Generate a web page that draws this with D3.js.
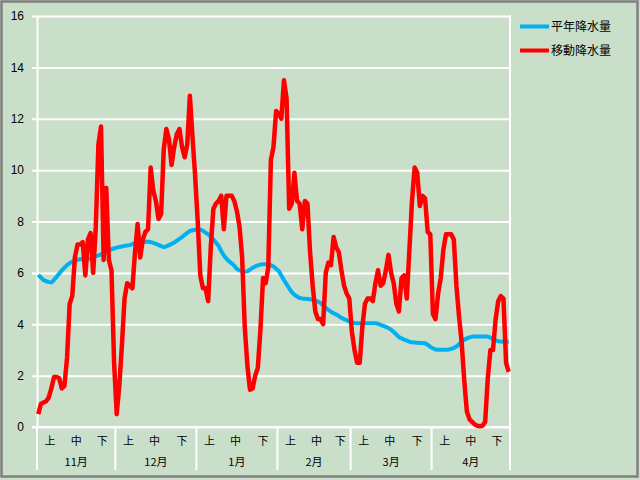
<!DOCTYPE html>
<html><head><meta charset="utf-8">
<script src="https://cdn.jsdelivr.net/npm/d3@7"></script>
<style>body{margin:0;background:#fff}svg{display:block}</style>
</head><body>
<svg id="chart" width="640" height="480"></svg>
<script>
// ---- data ----
const months = ["11月","12月","1月","2月","3月","4月"];
const monthDays = [30,31,31,28,31,30];
const periods = ["上","中","下"];
const yTicks = [0,2,4,6,8,10,12,14,16];
const seriesNames = ["平年降水量","移動降水量"];
const normal = [5.92,5.82,5.72,5.68,5.64,5.63,5.72,5.85,5.97,6.1,6.2,6.3,6.38,6.44,6.48,6.51,6.53,6.53,6.54,6.54,
6.55,6.6,6.65,6.68,6.72,6.77,6.83,6.88,6.92,6.95,6.98,7.01,7.03,7.05,7.07,7.08,7.12,7.16,7.18,7.19,
7.2,7.21,7.21,7.2,7.17,7.13,7.09,7.04,7.0,7.03,7.08,7.13,7.18,7.25,7.32,7.39,7.48,7.56,7.63,7.66,
7.68,7.69,7.69,7.64,7.57,7.5,7.4,7.3,7.17,7.05,6.85,6.68,6.55,6.45,6.37,6.28,6.15,6.1,6.07,6.05,
6.06,6.12,6.2,6.25,6.29,6.32,6.34,6.34,6.33,6.3,6.25,6.16,6.07,5.9,5.72,5.56,5.4,5.25,5.15,5.08,
5.02,5.0,4.99,4.98,4.97,4.95,4.92,4.88,4.83,4.73,4.64,4.56,4.49,4.43,4.38,4.32,4.25,4.2,4.16,4.11,
4.07,4.05,4.04,4.04,4.04,4.04,4.04,4.04,4.04,4.04,4.02,3.98,3.94,3.9,3.85,3.79,3.7,3.6,3.5,3.45,
3.4,3.36,3.32,3.3,3.29,3.28,3.27,3.27,3.26,3.2,3.12,3.06,3.02,3.01,3.01,3.01,3.01,3.02,3.04,3.08,
3.13,3.22,3.32,3.4,3.45,3.49,3.52,3.52,3.52,3.52,3.52,3.52,3.52,3.48,3.42,3.37,3.34,3.33,3.32,3.32,3.32];
const moving = [0.5,0.9,0.95,1.0,1.15,1.5,1.95,1.95,1.9,1.5,1.6,2.7,4.8,5.1,6.6,7.1,7.1,7.2,5.9,7.3,
7.55,6.0,7.8,11.0,11.7,6.5,9.3,6.5,6.1,2.5,0.5,1.6,3.2,5.0,5.6,5.5,5.4,6.8,7.9,6.6,
7.3,7.6,7.7,10.1,9.2,8.8,8.1,8.3,10.8,11.6,11.2,10.2,10.9,11.4,11.6,10.9,10.5,11.0,12.9,11.3,
9.8,8.0,5.9,5.4,5.4,4.9,7.0,8.5,8.7,8.8,9.0,7.7,9.0,9.0,9.0,8.8,8.4,7.8,6.6,3.9,
2.4,1.45,1.5,2.0,2.3,3.8,5.8,5.6,6.2,10.4,10.9,12.3,12.2,12.0,13.5,12.8,8.5,8.7,9.9,8.8,
8.7,7.7,8.8,8.7,6.8,5.5,4.5,4.2,4.2,4.0,6.0,6.4,6.3,7.4,7.0,6.8,6.1,5.5,5.2,5.0,
3.7,3.0,2.5,2.5,3.9,4.8,5.0,5.0,4.9,5.6,6.1,5.5,5.6,6.1,6.7,6.0,5.6,4.8,4.5,5.8,
5.9,5.0,6.9,8.8,10.1,9.9,8.6,9.0,8.9,7.6,7.5,4.4,4.2,5.2,5.8,6.9,7.5,7.5,7.5,7.3,
5.5,4.3,3.3,1.8,0.6,0.3,0.2,0.1,0.05,0.03,0.05,0.2,1.9,3.0,3.0,4.2,4.9,5.1,5.0,2.5,2.15];

// ---- derived categories ----
const days = [];
months.forEach((m, mi) => {
  for (let d = 1; d <= monthDays[mi]; d++) days.push({month: mi, day: d, period: d <= 10 ? 0 : d <= 20 ? 1 : 2});
});
const nDays = days.length;

const W = 640, H = 480;
const plot = {left: 37, right: 510, top: 16, bottom: 427};
const bg = "#CADFCA";
const svg = d3.select("#chart");
svg.append("rect").attr("x",0).attr("y",0).attr("width",W).attr("height",H).attr("fill",bg);
svg.append("rect").attr("x",1.5).attr("y",1.5).attr("width",W-4).attr("height",H-5)
  .attr("fill","none").attr("stroke","#808080").attr("stroke-width",2.5);

const x = d3.scaleBand().domain(d3.range(nDays)).range([plot.left, plot.right]).padding(0);
const xc = i => x(i) + x.bandwidth()/2;
const y = d3.scaleLinear().domain([0,16]).range([plot.bottom, plot.top]);

// gridlines + y axis
const yAxis = d3.axisLeft(y).tickValues(yTicks).tickSize(-(plot.right-plot.left)).tickPadding(9).tickSizeOuter(0);
const gy = svg.append("g").attr("transform",`translate(${plot.left},0)`).call(yAxis);
gy.select(".domain").attr("stroke","#fff").attr("stroke-width",2);
gy.selectAll(".tick line").attr("stroke","#fff").attr("stroke-width",2).attr("x1",-5);
gy.selectAll(".tick text").attr("fill","#000").style("font-family","'Liberation Sans',Arial,sans-serif").style("font-size","12px").attr("x",-13);

// category axis separators
let starts = [0];
monthDays.forEach((d,i)=>starts.push(starts[i]+d));
const sepX = starts.map(s => s < nDays ? x(s) : plot.right);
svg.append("g").selectAll("line").data(sepX).join("line")
  .attr("x1",d=>d).attr("x2",d=>d).attr("y1",plot.bottom).attr("y2",470)
  .attr("stroke","#fff").attr("stroke-width",2);
svg.append("line").attr("x1",plot.right).attr("x2",plot.right).attr("y1",plot.top-1).attr("y2",plot.bottom)
  .attr("stroke","#fff").attr("stroke-width",2);
svg.append("line").attr("x1",plot.left-5).attr("x2",plot.right).attr("y1",plot.bottom).attr("y2",plot.bottom)
  .attr("stroke","#fff").attr("stroke-width",2);

// period labels
const periodLabels = [];
months.forEach((m, mi) => {
  periods.forEach((p, pi) => {
    const idx = d3.range(nDays).filter(i => days[i].month===mi && days[i].period===pi);
    periodLabels.push({text:p, x:(x(idx[0]) + x(idx[idx.length-1]) + x.bandwidth())/2});
  });
});
const cjk = "'Noto Sans CJK JP','Noto Sans CJK SC',sans-serif";
svg.append("g").selectAll("text").data(periodLabels).join("text")
  .attr("x",d=>d.x).attr("y",445).attr("text-anchor","middle")
  .style("font-family",cjk).style("font-size","11px").attr("fill","#000").text(d=>d.text);
svg.append("g").selectAll("text").data(months).join("text")
  .attr("x",(d,i)=>(sepX[i]+sepX[i+1])/2).attr("y",466).attr("text-anchor","middle")
  .style("font-family",cjk).style("font-size","11px").attr("fill","#000").text(d=>d);

// lines
const colors = ["#00B0F0","#FF0000"];
const line = d3.line().x((d,i)=>xc(i)).y(d=>y(d)).curve(d3.curveLinear);
svg.append("path").datum(normal).attr("d",line).attr("fill","none").attr("stroke",colors[0])
  .attr("stroke-width",4).attr("stroke-linejoin","round");
svg.append("path").datum(moving).attr("d",line).attr("fill","none").attr("stroke",colors[1])
  .attr("stroke-width",4.5).attr("stroke-linejoin","round");

// legend
const lg = svg.append("g");
seriesNames.forEach((n,i)=>{
  const ly = 26.5 + i*24;
  lg.append("line").attr("x1",520).attr("x2",549).attr("y1",ly).attr("y2",ly).attr("stroke",colors[i]).attr("stroke-width",4);
  lg.append("text").attr("x",551).attr("y",ly+4.5).style("font-family",cjk).style("font-size","12px").attr("fill","#000").text(n);
});
</script>
</body></html>
